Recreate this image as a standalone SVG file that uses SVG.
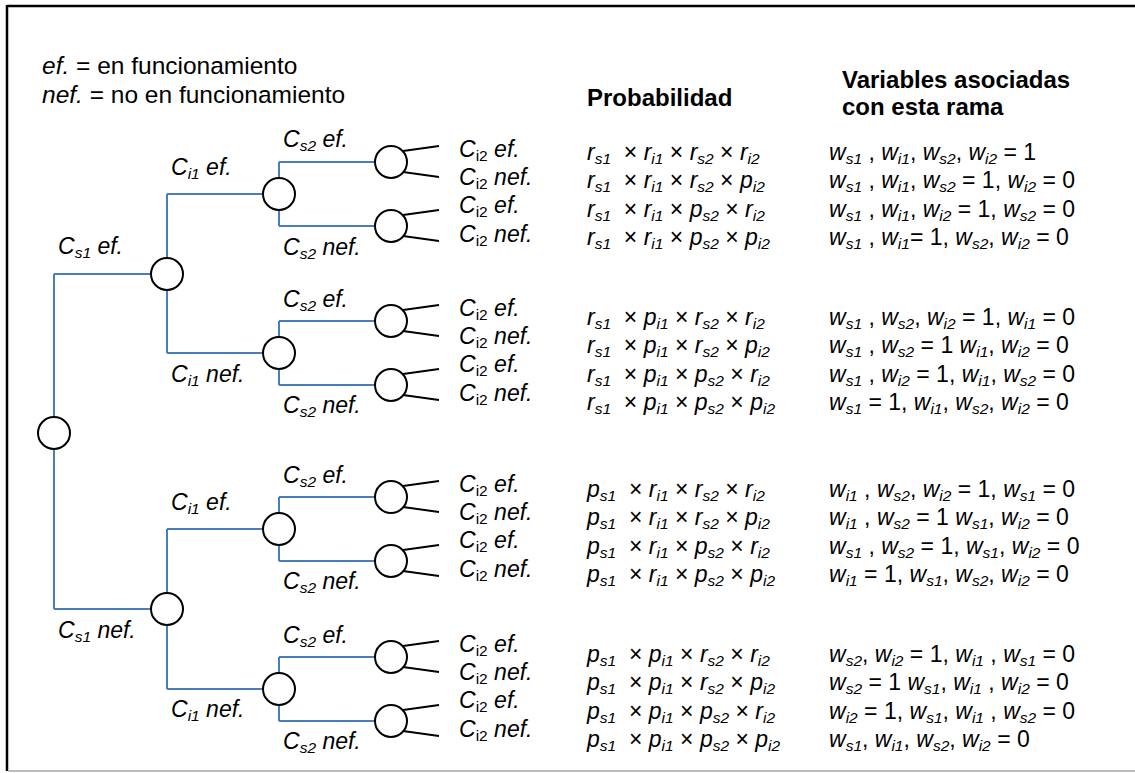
<svg xmlns="http://www.w3.org/2000/svg" width="1135" height="773" viewBox="0 0 1135 773">
<style>
text { font-family: "Liberation Sans", Arial, sans-serif; font-size: 23px; fill: #000; }
.lg { font-size: 24.5px; }
.hd { font-size: 24px; font-weight: bold; }
.i { font-style: italic; }
.s { font-size: 15.5px; }
.su { font-size: 15.5px; font-style: normal; }
.br { fill: none; stroke: #4a7ebb; stroke-width: 2; }
.lf { fill: none; stroke: #000; stroke-width: 2; }
.nd { fill: #fff; stroke: #000; stroke-width: 2; }
</style>
<rect width="1135" height="773" fill="#fff"/>
<g id="frame">
<line x1="7" y1="6" x2="1135" y2="6" stroke="#000" stroke-width="2.5"/>
<line x1="7" y1="5" x2="7" y2="771" stroke="#000" stroke-width="2.5"/>
<line x1="8" y1="771" x2="1135" y2="771" stroke="#bdbdbd" stroke-width="2"/>
</g>
<g id="legend">
<text class="lg" x="42" y="74"><tspan class="i">ef.</tspan> = en funcionamiento</text>
<text class="lg" x="42" y="103"><tspan class="i">nef.</tspan> = no en funcionamiento</text>
</g>
<g id="headers">
<text class="hd" x="587" y="106">Probabilidad</text>
<text class="hd" x="842" y="88">Variables asociadas</text>
<text class="hd" x="842" y="115">con esta rama</text>
</g>
<g id="connectors">
<path class="br" d="M54 274V609M54 274H167M54 609H167"/>
<path class="br" d="M167 194V353M167 194H279M167 353H279"/>
<path class="br" d="M167 529V689M167 529H279M167 689H279"/>
<path class="br" d="M279 162V226M279 162H391M279 226H391"/>
<path class="br" d="M279 321V385M279 321H391M279 385H391"/>
<path class="br" d="M279 497V561M279 497H391M279 561H391"/>
<path class="br" d="M279 657V721M279 657H391M279 721H391"/>
<path class="lf" d="M403 151L439 146M403 172L439 177M403 215L439 210M403 236L439 241"/>
<path class="lf" d="M403 310L439 305M403 331L439 336M403 374L439 369M403 395L439 400"/>
<path class="lf" d="M403 486L439 481M403 507L439 512M403 550L439 545M403 571L439 576"/>
<path class="lf" d="M403 646L439 641M403 667L439 672M403 710L439 705M403 731L439 736"/>
</g>
<g id="n-root"><circle class="nd" cx="54" cy="433" r="16"/></g>
<g id="n-s1ef"><circle class="nd" cx="167" cy="274" r="16"/></g>
<g id="n-s1nef"><circle class="nd" cx="167" cy="609" r="16"/></g>
<g id="n-i1a"><circle class="nd" cx="279" cy="194" r="16"/></g>
<g id="n-i1b"><circle class="nd" cx="279" cy="353" r="16"/></g>
<g id="n-i1c"><circle class="nd" cx="279" cy="529" r="16"/></g>
<g id="n-i1d"><circle class="nd" cx="279" cy="689" r="16"/></g>
<g id="n-s2a"><circle class="nd" cx="391" cy="162" r="16"/><circle class="nd" cx="391" cy="226" r="16"/></g>
<g id="n-s2b"><circle class="nd" cx="391" cy="321" r="16"/><circle class="nd" cx="391" cy="385" r="16"/></g>
<g id="n-s2c"><circle class="nd" cx="391" cy="497" r="16"/><circle class="nd" cx="391" cy="561" r="16"/></g>
<g id="n-s2d"><circle class="nd" cx="391" cy="657" r="16"/><circle class="nd" cx="391" cy="721" r="16"/></g>
<g id="tree-labels">
<text class="i" x="58" y="254">C<tspan class="s" dy="4">s1</tspan><tspan dy="-4"> ef.</tspan></text>
<text class="i" x="58" y="638">C<tspan class="s" dy="4">s1</tspan><tspan dy="-4"> nef.</tspan></text>
<text class="i" x="171" y="175">C<tspan class="s" dy="4">i1</tspan><tspan dy="-4"> ef.</tspan></text>
<text class="i" x="171" y="382">C<tspan class="s" dy="4">i1</tspan><tspan dy="-4"> nef.</tspan></text>
<text class="i" x="171" y="510">C<tspan class="s" dy="4">i1</tspan><tspan dy="-4"> ef.</tspan></text>
<text class="i" x="171" y="717">C<tspan class="s" dy="4">i1</tspan><tspan dy="-4"> nef.</tspan></text>
<text class="i" x="283" y="147">C<tspan class="s" dy="4">s2</tspan><tspan dy="-4"> ef.</tspan></text>
<text class="i" x="283" y="255">C<tspan class="s" dy="4">s2</tspan><tspan dy="-4"> nef.</tspan></text>
<text class="i" x="283" y="307">C<tspan class="s" dy="4">s2</tspan><tspan dy="-4"> ef.</tspan></text>
<text class="i" x="283" y="413">C<tspan class="s" dy="4">s2</tspan><tspan dy="-4"> nef.</tspan></text>
<text class="i" x="283" y="483">C<tspan class="s" dy="4">s2</tspan><tspan dy="-4"> ef.</tspan></text>
<text class="i" x="283" y="589">C<tspan class="s" dy="4">s2</tspan><tspan dy="-4"> nef.</tspan></text>
<text class="i" x="283" y="643">C<tspan class="s" dy="4">s2</tspan><tspan dy="-4"> ef.</tspan></text>
<text class="i" x="283" y="749">C<tspan class="s" dy="4">s2</tspan><tspan dy="-4"> nef.</tspan></text>
</g>
<g id="leaf-labels">
<text class="i" x="459" y="157">C<tspan class="su" dy="4">i2</tspan><tspan dy="-4"> ef.</tspan></text>
<text class="i" x="459" y="185">C<tspan class="su" dy="4">i2</tspan><tspan dy="-4"> nef.</tspan></text>
<text class="i" x="459" y="213">C<tspan class="su" dy="4">i2</tspan><tspan dy="-4"> ef.</tspan></text>
<text class="i" x="459" y="242">C<tspan class="su" dy="4">i2</tspan><tspan dy="-4"> nef.</tspan></text>
<text class="i" x="459" y="316">C<tspan class="su" dy="4">i2</tspan><tspan dy="-4"> ef.</tspan></text>
<text class="i" x="459" y="344">C<tspan class="su" dy="4">i2</tspan><tspan dy="-4"> nef.</tspan></text>
<text class="i" x="459" y="372">C<tspan class="su" dy="4">i2</tspan><tspan dy="-4"> ef.</tspan></text>
<text class="i" x="459" y="401">C<tspan class="su" dy="4">i2</tspan><tspan dy="-4"> nef.</tspan></text>
<text class="i" x="459" y="492">C<tspan class="su" dy="4">i2</tspan><tspan dy="-4"> ef.</tspan></text>
<text class="i" x="459" y="520">C<tspan class="su" dy="4">i2</tspan><tspan dy="-4"> nef.</tspan></text>
<text class="i" x="459" y="548">C<tspan class="su" dy="4">i2</tspan><tspan dy="-4"> ef.</tspan></text>
<text class="i" x="459" y="577">C<tspan class="su" dy="4">i2</tspan><tspan dy="-4"> nef.</tspan></text>
<text class="i" x="459" y="652">C<tspan class="su" dy="4">i2</tspan><tspan dy="-4"> ef.</tspan></text>
<text class="i" x="459" y="680">C<tspan class="su" dy="4">i2</tspan><tspan dy="-4"> nef.</tspan></text>
<text class="i" x="459" y="708">C<tspan class="su" dy="4">i2</tspan><tspan dy="-4"> ef.</tspan></text>
<text class="i" x="459" y="737">C<tspan class="su" dy="4">i2</tspan><tspan dy="-4"> nef.</tspan></text>
</g>
<g id="probabilities">
<text x="587" y="160"><tspan class="i">r</tspan><tspan class="s i" dy="4">s1</tspan><tspan dy="-4">&#160; × </tspan><tspan class="i">r</tspan><tspan class="s i" dy="4">i1</tspan><tspan dy="-4"> × </tspan><tspan class="i">r</tspan><tspan class="s i" dy="4">s2</tspan><tspan dy="-4"> × </tspan><tspan class="i">r</tspan><tspan class="s i" dy="4">i2</tspan></text>
<text x="587" y="188"><tspan class="i">r</tspan><tspan class="s i" dy="4">s1</tspan><tspan dy="-4">&#160; × </tspan><tspan class="i">r</tspan><tspan class="s i" dy="4">i1</tspan><tspan dy="-4"> × </tspan><tspan class="i">r</tspan><tspan class="s i" dy="4">s2</tspan><tspan dy="-4"> × </tspan><tspan class="i">p</tspan><tspan class="s i" dy="4">i2</tspan></text>
<text x="587" y="217"><tspan class="i">r</tspan><tspan class="s i" dy="4">s1</tspan><tspan dy="-4">&#160; × </tspan><tspan class="i">r</tspan><tspan class="s i" dy="4">i1</tspan><tspan dy="-4"> × </tspan><tspan class="i">p</tspan><tspan class="s i" dy="4">s2</tspan><tspan dy="-4"> × </tspan><tspan class="i">r</tspan><tspan class="s i" dy="4">i2</tspan></text>
<text x="587" y="245"><tspan class="i">r</tspan><tspan class="s i" dy="4">s1</tspan><tspan dy="-4">&#160; × </tspan><tspan class="i">r</tspan><tspan class="s i" dy="4">i1</tspan><tspan dy="-4"> × </tspan><tspan class="i">p</tspan><tspan class="s i" dy="4">s2</tspan><tspan dy="-4"> × </tspan><tspan class="i">p</tspan><tspan class="s i" dy="4">i2</tspan></text>
<text x="587" y="325"><tspan class="i">r</tspan><tspan class="s i" dy="4">s1</tspan><tspan dy="-4">&#160; × </tspan><tspan class="i">p</tspan><tspan class="s i" dy="4">i1</tspan><tspan dy="-4"> × </tspan><tspan class="i">r</tspan><tspan class="s i" dy="4">s2</tspan><tspan dy="-4"> × </tspan><tspan class="i">r</tspan><tspan class="s i" dy="4">i2</tspan></text>
<text x="587" y="353"><tspan class="i">r</tspan><tspan class="s i" dy="4">s1</tspan><tspan dy="-4">&#160; × </tspan><tspan class="i">p</tspan><tspan class="s i" dy="4">i1</tspan><tspan dy="-4"> × </tspan><tspan class="i">r</tspan><tspan class="s i" dy="4">s2</tspan><tspan dy="-4"> × </tspan><tspan class="i">p</tspan><tspan class="s i" dy="4">i2</tspan></text>
<text x="587" y="382"><tspan class="i">r</tspan><tspan class="s i" dy="4">s1</tspan><tspan dy="-4">&#160; × </tspan><tspan class="i">p</tspan><tspan class="s i" dy="4">i1</tspan><tspan dy="-4"> × </tspan><tspan class="i">p</tspan><tspan class="s i" dy="4">s2</tspan><tspan dy="-4"> × </tspan><tspan class="i">r</tspan><tspan class="s i" dy="4">i2</tspan></text>
<text x="587" y="410"><tspan class="i">r</tspan><tspan class="s i" dy="4">s1</tspan><tspan dy="-4">&#160; × </tspan><tspan class="i">p</tspan><tspan class="s i" dy="4">i1</tspan><tspan dy="-4"> × </tspan><tspan class="i">p</tspan><tspan class="s i" dy="4">s2</tspan><tspan dy="-4"> × </tspan><tspan class="i">p</tspan><tspan class="s i" dy="4">i2</tspan></text>
<text x="587" y="497"><tspan class="i">p</tspan><tspan class="s i" dy="4">s1</tspan><tspan dy="-4">&#160; × </tspan><tspan class="i">r</tspan><tspan class="s i" dy="4">i1</tspan><tspan dy="-4"> × </tspan><tspan class="i">r</tspan><tspan class="s i" dy="4">s2</tspan><tspan dy="-4"> × </tspan><tspan class="i">r</tspan><tspan class="s i" dy="4">i2</tspan></text>
<text x="587" y="525"><tspan class="i">p</tspan><tspan class="s i" dy="4">s1</tspan><tspan dy="-4">&#160; × </tspan><tspan class="i">r</tspan><tspan class="s i" dy="4">i1</tspan><tspan dy="-4"> × </tspan><tspan class="i">r</tspan><tspan class="s i" dy="4">s2</tspan><tspan dy="-4"> × </tspan><tspan class="i">p</tspan><tspan class="s i" dy="4">i2</tspan></text>
<text x="587" y="554"><tspan class="i">p</tspan><tspan class="s i" dy="4">s1</tspan><tspan dy="-4">&#160; × </tspan><tspan class="i">r</tspan><tspan class="s i" dy="4">i1</tspan><tspan dy="-4"> × </tspan><tspan class="i">p</tspan><tspan class="s i" dy="4">s2</tspan><tspan dy="-4"> × </tspan><tspan class="i">r</tspan><tspan class="s i" dy="4">i2</tspan></text>
<text x="587" y="582"><tspan class="i">p</tspan><tspan class="s i" dy="4">s1</tspan><tspan dy="-4">&#160; × </tspan><tspan class="i">r</tspan><tspan class="s i" dy="4">i1</tspan><tspan dy="-4"> × </tspan><tspan class="i">p</tspan><tspan class="s i" dy="4">s2</tspan><tspan dy="-4"> × </tspan><tspan class="i">p</tspan><tspan class="s i" dy="4">i2</tspan></text>
<text x="587" y="662"><tspan class="i">p</tspan><tspan class="s i" dy="4">s1</tspan><tspan dy="-4">&#160; × </tspan><tspan class="i">p</tspan><tspan class="s i" dy="4">i1</tspan><tspan dy="-4"> × </tspan><tspan class="i">r</tspan><tspan class="s i" dy="4">s2</tspan><tspan dy="-4"> × </tspan><tspan class="i">r</tspan><tspan class="s i" dy="4">i2</tspan></text>
<text x="587" y="690"><tspan class="i">p</tspan><tspan class="s i" dy="4">s1</tspan><tspan dy="-4">&#160; × </tspan><tspan class="i">p</tspan><tspan class="s i" dy="4">i1</tspan><tspan dy="-4"> × </tspan><tspan class="i">r</tspan><tspan class="s i" dy="4">s2</tspan><tspan dy="-4"> × </tspan><tspan class="i">p</tspan><tspan class="s i" dy="4">i2</tspan></text>
<text x="587" y="719"><tspan class="i">p</tspan><tspan class="s i" dy="4">s1</tspan><tspan dy="-4">&#160; × </tspan><tspan class="i">p</tspan><tspan class="s i" dy="4">i1</tspan><tspan dy="-4"> × </tspan><tspan class="i">p</tspan><tspan class="s i" dy="4">s2</tspan><tspan dy="-4"> × </tspan><tspan class="i">r</tspan><tspan class="s i" dy="4">i2</tspan></text>
<text x="587" y="747"><tspan class="i">p</tspan><tspan class="s i" dy="4">s1</tspan><tspan dy="-4">&#160; × </tspan><tspan class="i">p</tspan><tspan class="s i" dy="4">i1</tspan><tspan dy="-4"> × </tspan><tspan class="i">p</tspan><tspan class="s i" dy="4">s2</tspan><tspan dy="-4"> × </tspan><tspan class="i">p</tspan><tspan class="s i" dy="4">i2</tspan></text>
</g>
<g id="variables">
<text x="829" y="160"><tspan class="i">w</tspan><tspan class="s i" dy="4">s1</tspan><tspan dy="-4"> , </tspan><tspan class="i">w</tspan><tspan class="s i" dy="4">i1</tspan><tspan dy="-4">, </tspan><tspan class="i">w</tspan><tspan class="s i" dy="4">s2</tspan><tspan dy="-4">, </tspan><tspan class="i">w</tspan><tspan class="s i" dy="4">i2</tspan><tspan dy="-4"> = 1</tspan></text>
<text x="829" y="188"><tspan class="i">w</tspan><tspan class="s i" dy="4">s1</tspan><tspan dy="-4"> , </tspan><tspan class="i">w</tspan><tspan class="s i" dy="4">i1</tspan><tspan dy="-4">, </tspan><tspan class="i">w</tspan><tspan class="s i" dy="4">s2</tspan><tspan dy="-4"> = 1, </tspan><tspan class="i">w</tspan><tspan class="s i" dy="4">i2</tspan><tspan dy="-4"> = 0</tspan></text>
<text x="829" y="217"><tspan class="i">w</tspan><tspan class="s i" dy="4">s1</tspan><tspan dy="-4"> , </tspan><tspan class="i">w</tspan><tspan class="s i" dy="4">i1</tspan><tspan dy="-4">, </tspan><tspan class="i">w</tspan><tspan class="s i" dy="4">i2</tspan><tspan dy="-4"> = 1, </tspan><tspan class="i">w</tspan><tspan class="s i" dy="4">s2</tspan><tspan dy="-4"> = 0</tspan></text>
<text x="829" y="245"><tspan class="i">w</tspan><tspan class="s i" dy="4">s1</tspan><tspan dy="-4"> , </tspan><tspan class="i">w</tspan><tspan class="s i" dy="4">i1</tspan><tspan dy="-4">= 1, </tspan><tspan class="i">w</tspan><tspan class="s i" dy="4">s2</tspan><tspan dy="-4">, </tspan><tspan class="i">w</tspan><tspan class="s i" dy="4">i2</tspan><tspan dy="-4"> = 0</tspan></text>
<text x="829" y="325"><tspan class="i">w</tspan><tspan class="s i" dy="4">s1</tspan><tspan dy="-4"> , </tspan><tspan class="i">w</tspan><tspan class="s i" dy="4">s2</tspan><tspan dy="-4">, </tspan><tspan class="i">w</tspan><tspan class="s i" dy="4">i2</tspan><tspan dy="-4"> = 1, </tspan><tspan class="i">w</tspan><tspan class="s i" dy="4">i1</tspan><tspan dy="-4"> = 0</tspan></text>
<text x="829" y="353"><tspan class="i">w</tspan><tspan class="s i" dy="4">s1</tspan><tspan dy="-4"> , </tspan><tspan class="i">w</tspan><tspan class="s i" dy="4">s2</tspan><tspan dy="-4"> = 1 </tspan><tspan class="i">w</tspan><tspan class="s i" dy="4">i1</tspan><tspan dy="-4">, </tspan><tspan class="i">w</tspan><tspan class="s i" dy="4">i2</tspan><tspan dy="-4"> = 0</tspan></text>
<text x="829" y="382"><tspan class="i">w</tspan><tspan class="s i" dy="4">s1</tspan><tspan dy="-4"> , </tspan><tspan class="i">w</tspan><tspan class="s i" dy="4">i2</tspan><tspan dy="-4"> = 1, </tspan><tspan class="i">w</tspan><tspan class="s i" dy="4">i1</tspan><tspan dy="-4">, </tspan><tspan class="i">w</tspan><tspan class="s i" dy="4">s2</tspan><tspan dy="-4"> = 0</tspan></text>
<text x="829" y="410"><tspan class="i">w</tspan><tspan class="s i" dy="4">s1</tspan><tspan dy="-4"> = 1, </tspan><tspan class="i">w</tspan><tspan class="s i" dy="4">i1</tspan><tspan dy="-4">, </tspan><tspan class="i">w</tspan><tspan class="s i" dy="4">s2</tspan><tspan dy="-4">, </tspan><tspan class="i">w</tspan><tspan class="s i" dy="4">i2</tspan><tspan dy="-4"> = 0</tspan></text>
<text x="829" y="497"><tspan class="i">w</tspan><tspan class="s i" dy="4">i1</tspan><tspan dy="-4"> , </tspan><tspan class="i">w</tspan><tspan class="s i" dy="4">s2</tspan><tspan dy="-4">, </tspan><tspan class="i">w</tspan><tspan class="s i" dy="4">i2</tspan><tspan dy="-4"> = 1, </tspan><tspan class="i">w</tspan><tspan class="s i" dy="4">s1</tspan><tspan dy="-4"> = 0</tspan></text>
<text x="829" y="525"><tspan class="i">w</tspan><tspan class="s i" dy="4">i1</tspan><tspan dy="-4"> , </tspan><tspan class="i">w</tspan><tspan class="s i" dy="4">s2</tspan><tspan dy="-4"> = 1 </tspan><tspan class="i">w</tspan><tspan class="s i" dy="4">s1</tspan><tspan dy="-4">, </tspan><tspan class="i">w</tspan><tspan class="s i" dy="4">i2</tspan><tspan dy="-4"> = 0</tspan></text>
<text x="829" y="554"><tspan class="i">w</tspan><tspan class="s i" dy="4">s1</tspan><tspan dy="-4"> , </tspan><tspan class="i">w</tspan><tspan class="s i" dy="4">s2</tspan><tspan dy="-4"> = 1, </tspan><tspan class="i">w</tspan><tspan class="s i" dy="4">s1</tspan><tspan dy="-4">, </tspan><tspan class="i">w</tspan><tspan class="s i" dy="4">i2</tspan><tspan dy="-4"> = 0</tspan></text>
<text x="829" y="582"><tspan class="i">w</tspan><tspan class="s i" dy="4">i1</tspan><tspan dy="-4"> = 1, </tspan><tspan class="i">w</tspan><tspan class="s i" dy="4">s1</tspan><tspan dy="-4">, </tspan><tspan class="i">w</tspan><tspan class="s i" dy="4">s2</tspan><tspan dy="-4">, </tspan><tspan class="i">w</tspan><tspan class="s i" dy="4">i2</tspan><tspan dy="-4"> = 0</tspan></text>
<text x="829" y="662"><tspan class="i">w</tspan><tspan class="s i" dy="4">s2</tspan><tspan dy="-4">, </tspan><tspan class="i">w</tspan><tspan class="s i" dy="4">i2</tspan><tspan dy="-4"> = 1, </tspan><tspan class="i">w</tspan><tspan class="s i" dy="4">i1</tspan><tspan dy="-4"> , </tspan><tspan class="i">w</tspan><tspan class="s i" dy="4">s1</tspan><tspan dy="-4"> = 0</tspan></text>
<text x="829" y="690"><tspan class="i">w</tspan><tspan class="s i" dy="4">s2</tspan><tspan dy="-4"> = 1 </tspan><tspan class="i">w</tspan><tspan class="s i" dy="4">s1</tspan><tspan dy="-4">, </tspan><tspan class="i">w</tspan><tspan class="s i" dy="4">i1</tspan><tspan dy="-4"> , </tspan><tspan class="i">w</tspan><tspan class="s i" dy="4">i2</tspan><tspan dy="-4"> = 0</tspan></text>
<text x="829" y="719"><tspan class="i">w</tspan><tspan class="s i" dy="4">i2</tspan><tspan dy="-4"> = 1, </tspan><tspan class="i">w</tspan><tspan class="s i" dy="4">s1</tspan><tspan dy="-4">, </tspan><tspan class="i">w</tspan><tspan class="s i" dy="4">i1</tspan><tspan dy="-4"> , </tspan><tspan class="i">w</tspan><tspan class="s i" dy="4">s2</tspan><tspan dy="-4"> = 0</tspan></text>
<text x="829" y="747"><tspan class="i">w</tspan><tspan class="s i" dy="4">s1</tspan><tspan dy="-4">, </tspan><tspan class="i">w</tspan><tspan class="s i" dy="4">i1</tspan><tspan dy="-4">, </tspan><tspan class="i">w</tspan><tspan class="s i" dy="4">s2</tspan><tspan dy="-4">, </tspan><tspan class="i">w</tspan><tspan class="s i" dy="4">i2</tspan><tspan dy="-4"> = 0</tspan></text>
</g>
</svg>
